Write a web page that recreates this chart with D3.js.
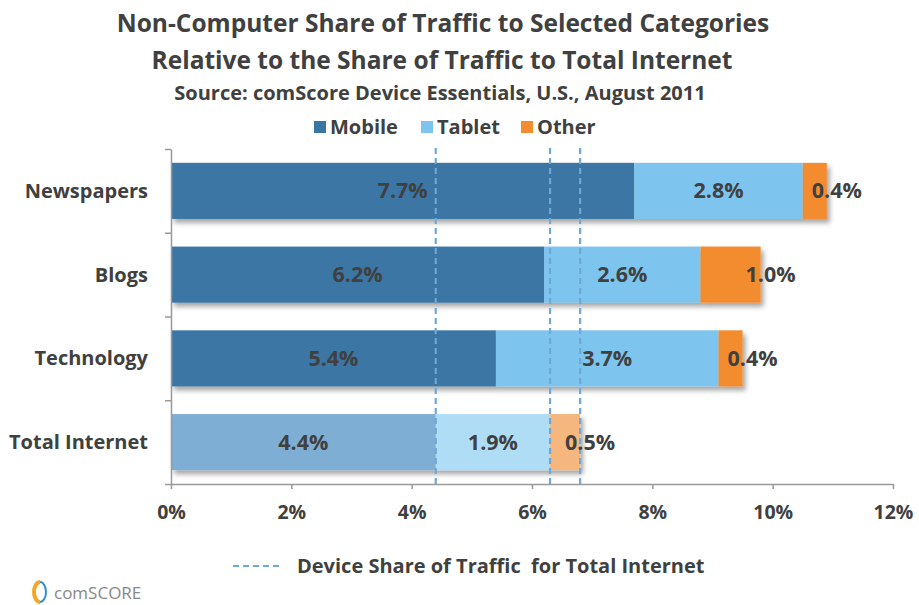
<!doctype html>
<html>
<head>
<meta charset="UTF-8">
<title>Non-Computer Share of Traffic</title>
<script src="https://cdn.jsdelivr.net/npm/d3@7"></script>
<style>
  body { margin: 0; background: #fff; }
  text { font-family: "Open Sans", sans-serif; font-weight: bold; fill: #404040; }
</style>
</head>
<body>
<svg id="chart" width="919" height="605"></svg>
<script>
    // data (percent of traffic)
    var categories = ["Newspapers", "Blogs", "Technology", "Total Internet"];
    var mobile = [7.7, 6.2, 5.4, 4.4];
    var tablet = [2.8, 2.6, 3.7, 1.9];
    var other = [0.4, 1.0, 0.4, 0.5];
    var seriesNames = ["Mobile", "Tablet", "Other"];
    var xTicks = [0, 2, 4, 6, 8, 10, 12];

    var colors = ["#3A76A4", "#7DC4EE", "#F28C2F"];
    var lightColors = ["#7EAED3", "#AFDDF6", "#F5B77D"];

    var svg = d3.select("#chart");

    var defs = svg.append("defs");
    defs.append("filter").attr("id", "shadow")
        .attr("x", "-5%").attr("y", "-20%").attr("width", "115%").attr("height", "160%")
        .append("feDropShadow")
        .attr("dx", 3).attr("dy", 4).attr("stdDeviation", 2.5)
        .attr("flood-color", "#000").attr("flood-opacity", 0.35);

    var x = d3.scaleLinear().domain([0, 12]).range([171, 893]);
    var y = d3.scaleBand().domain(categories).range([149, 484])
        .paddingInner(0.33).paddingOuter(0.165);

    // titles
    svg.append("text").attr("x", 443).attr("y", 32).attr("text-anchor", "middle")
        .attr("font-size", 24.5).text("Non-Computer Share of Traffic to Selected Categories");
    svg.append("text").attr("x", 442).attr("y", 69).attr("text-anchor", "middle")
        .attr("font-size", 24.5).text("Relative to the Share of Traffic to Total Internet");
    svg.append("text").attr("x", 440).attr("y", 100).attr("text-anchor", "middle")
        .attr("font-size", 20).text("Source: comScore Device Essentials, U.S., August 2011");

    // stacked rows
    var rows = categories.map(function (c, i) {
        var vals = [mobile[i], tablet[i], other[i]];
        var start = 0;
        return vals.map(function (v, k) {
            var seg = { cat: c, row: i, k: k, x0: start, x1: start + v, v: v };
            start += v;
            return seg;
        });
    });

    var rowG = svg.selectAll("g.row").data(rows).enter().append("g")
        .attr("class", "row").attr("filter", "url(#shadow)");
    rowG.selectAll("rect").data(function (d) { return d; }).enter().append("rect")
        .attr("x", function (d) { return x(d.x0); })
        .attr("y", function (d) { return y(d.cat); })
        .attr("width", function (d) { return x(d.x1) - x(d.x0); })
        .attr("height", y.bandwidth())
        .attr("fill", function (d) {
            return d.cat === "Total Internet" ? lightColors[d.k] : colors[d.k];
        });

    // axes
    var xAxis = svg.append("g").attr("transform", "translate(0,484)")
        .call(d3.axisBottom(x).tickValues(xTicks).tickSize(5).tickSizeOuter(0)
            .tickFormat(function (d) { return d + "%"; }));
    xAxis.select(".domain").attr("stroke", "#999").attr("stroke-width", 1.5);
    xAxis.selectAll(".tick line").attr("stroke", "#999").attr("stroke-width", 1.5);
    xAxis.selectAll(".tick text").attr("font-size", 19.5).attr("dy", 0).attr("y", 35)
        .attr("font-family", null).attr("fill", "#404040");

    var yEdges = d3.scaleLinear().domain([0, categories.length]).range([149, 484]);
    var yAxis = svg.append("g").attr("transform", "translate(171,0)")
        .call(d3.axisLeft(yEdges).ticks(categories.length).tickSize(6).tickSizeOuter(0)
            .tickFormat(""));
    yAxis.select(".domain").attr("stroke", "#999").attr("stroke-width", 1.5);
    yAxis.selectAll(".tick line").attr("stroke", "#999").attr("stroke-width", 1.5);

    svg.selectAll("text.cat").data(categories).enter().append("text")
        .attr("class", "cat")
        .attr("x", 148)
        .attr("y", function (d) { return y(d) + y.bandwidth() / 2; })
        .attr("dy", "0.35em").attr("text-anchor", "end").attr("font-size", 20)
        .text(function (d) { return d; });

    // reference lines from Total Internet cumulative shares
    var totalRow = rows[categories.indexOf("Total Internet")];
    var refLines = totalRow.map(function (d) { return d.x1; });
    svg.selectAll("line.ref").data(refLines).enter().append("line")
        .attr("class", "ref")
        .attr("x1", function (d) { return x(d); }).attr("x2", function (d) { return x(d); })
        .attr("y1", 148).attr("y2", 484)
        .attr("stroke", "#6FA7D6").attr("stroke-width", 2.2).attr("stroke-dasharray", "6,4");

    // value labels
    var segs = [].concat.apply([], rows);
    svg.selectAll("text.val").data(segs).enter().append("text")
        .attr("class", "val")
        .attr("x", function (d) {
            if (d.k === 2) return x(d.x1) + 10;
            return (x(d.x0) + x(d.x1)) / 2;
        })
        .attr("y", function (d) { return y(d.cat) + y.bandwidth() / 2; })
        .attr("dy", "0.35em").attr("text-anchor", "middle").attr("font-size", 21.5)
        .text(function (d) { return d.v.toFixed(1) + "%"; });

    // top legend
    var legX = [314, 421, 521];
    var leg = svg.selectAll("g.leg").data(seriesNames).enter().append("g")
        .attr("class", "leg")
        .attr("transform", function (d, i) { return "translate(" + legX[i] + ",121)"; });
    leg.append("rect").attr("width", 12).attr("height", 12)
        .attr("fill", function (d, i) { return colors[i]; });
    leg.append("text").attr("x", 16).attr("y", 13).attr("font-size", 20)
        .text(function (d) { return d; });

    // bottom legend
    svg.append("line").attr("x1", 233).attr("x2", 283).attr("y1", 566).attr("y2", 566)
        .attr("stroke", "#6FA7D6").attr("stroke-width", 2.2).attr("stroke-dasharray", "6,4");
    svg.append("text").attr("x", 297).attr("y", 573).attr("font-size", 20)
        .text("Device Share of Traffic  for Total Internet").attr("xml:space", "preserve")
        .style("white-space", "pre");

    // comScore mark
    var logo = svg.append("g").attr("transform", "translate(40,592)");
    logo.append("path").attr("d", "M0,-10 A6,10 0 0,0 0,10")
        .attr("fill", "none").attr("stroke", "#F5A623").attr("stroke-width", 4);
    logo.append("path").attr("d", "M0,-10 A6,10 0 0,1 0,10")
        .attr("fill", "none").attr("stroke", "#2C8FD6").attr("stroke-width", 2);
    logo.append("text").attr("x", 14).attr("y", 7).attr("font-size", 17)
        .style("font-weight", "normal").style("fill", "#888")
        .text("comSCORE");
</script>
</body>
</html>
